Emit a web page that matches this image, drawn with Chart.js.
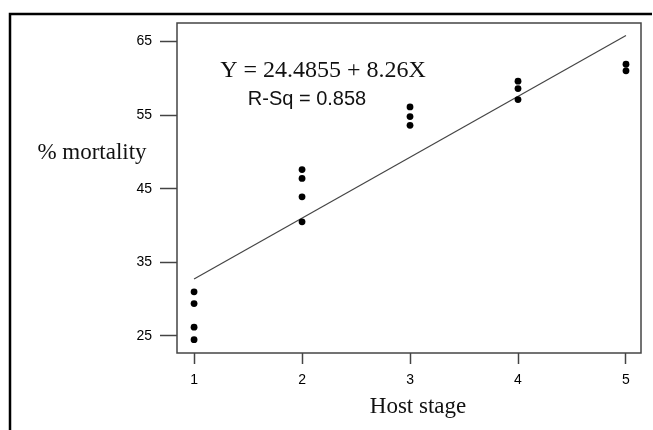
<!DOCTYPE html>
<html>
<head>
<meta charset="utf-8">
<script src="https://cdn.jsdelivr.net/npm/chart.js@4/dist/chart.umd.min.js"></script>
<style>
  html, body { margin: 0; padding: 0; background: #fff; }
  #wrap { width: 653px; height: 430px; position: relative; }
</style>
</head>
<body>
<div id="wrap"><canvas id="mortChart"></canvas></div>
<script>
// Host stage vs % mortality
let stageX = [1, 1, 1, 1, 2, 2, 2, 2, 3, 3, 3, 4, 4, 4, 5, 5];
let mortality = [31.0, 29.4, 26.2, 24.5, 47.6, 46.4, 43.9, 40.5, 56.1, 54.8, 53.6, 59.6, 58.6, 57.1, 61.9, 61.0];
// fitted line end points: Y = 24.4855 + 8.26X
let fitX = [1, 5];
let fitY = [32.75, 65.79];
let xTicks = [1, 2, 3, 4, 5];
let yTicks = [25, 35, 45, 55, 65];

let tickFont = { family: "'Liberation Sans', Arial, sans-serif", size: 14 };

// box, outer frame and the free text
let extras = {
    id: 'extras',
    afterDraw(chart) {
        let ctx = chart.ctx;
        let a = chart.chartArea;
        ctx.save();
        // outer frame (top + left)
        ctx.strokeStyle = '#000';
        ctx.lineWidth = 2.5;
        ctx.beginPath();
        ctx.moveTo(10, 430);
        ctx.lineTo(10, 14);
        ctx.lineTo(652, 14);
        ctx.stroke();
        // plot box
        ctx.strokeStyle = '#444';
        ctx.lineWidth = 1.5;
        ctx.strokeRect(a.left, a.top, a.right - a.left, a.bottom - a.top);
        // texts
        ctx.fillStyle = '#111';
        ctx.textBaseline = 'middle';
        ctx.textAlign = 'center';
        ctx.font = "23px 'Liberation Serif', 'Times New Roman', serif";
        ctx.fillText('Host stage', 418, 407);
        ctx.fillText('% mortality', 92, 153);
        ctx.font = "24px 'Liberation Serif', 'Times New Roman', serif";
        ctx.fillText('Y = 24.4855 + 8.26X', 323, 71);
        ctx.font = "20px 'Liberation Sans', Arial, sans-serif";
        ctx.fillText('R-Sq = 0.858', 307, 99);
        ctx.restore();
    }
};

let ctx = document.getElementById("mortChart").getContext('2d');
new Chart(ctx, {
    type: 'scatter',
    data: {
        datasets: [{
            data: stageX.map((x, i) => ({ x: x, y: mortality[i] })),
            backgroundColor: '#000',
            borderColor: '#000',
            pointRadius: 3.4,
            pointBorderWidth: 0
        }, {
            data: fitX.map((x, i) => ({ x: x, y: fitY[i] })),
            showLine: true,
            borderColor: '#444',
            borderWidth: 1.2,
            pointRadius: 0,
            fill: false
        }]
    },
    options: {
        responsive: true,
        maintainAspectRatio: false,
        animation: false,
        layout: { padding: { top: 23, right: 12, left: 0, bottom: 0 } },
        plugins: {
            legend: { display: false },
            tooltip: { enabled: false }
        },
        scales: {
            x: {
                type: 'linear',
                min: 0.842,
                max: 5.139,
                afterFit(scale) { scale.height = 77; },
                afterBuildTicks(scale) { scale.ticks = xTicks.map(v => ({ value: v })); },
                grid: { drawOnChartArea: false, drawTicks: true, tickLength: 11, tickColor: '#444', tickWidth: 1.5 },
                border: { display: false },
                ticks: { color: '#000', font: tickFont, padding: 8, maxRotation: 0 }
            },
            y: {
                type: 'linear',
                min: 22.69,
                max: 67.5,
                afterFit(scale) { scale.width = 177; },
                afterBuildTicks(scale) { scale.ticks = yTicks.map(v => ({ value: v })); },
                grid: { drawOnChartArea: false, drawTicks: true, tickLength: 17, tickColor: '#444', tickWidth: 1.5 },
                border: { display: false },
                ticks: { color: '#000', font: tickFont, padding: 8 }
            }
        }
    },
    plugins: [extras]
});
</script>
</body>
</html>
